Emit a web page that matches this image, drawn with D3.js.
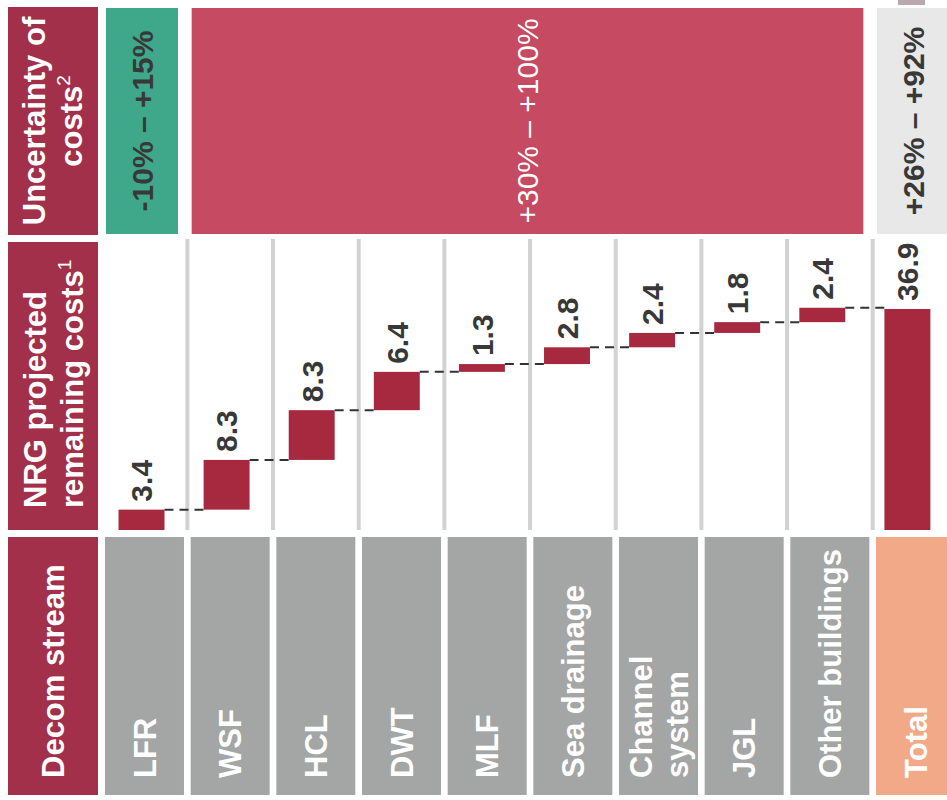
<!DOCTYPE html>
<html>
<head>
<meta charset="utf-8">
<script src="https://cdn.jsdelivr.net/npm/d3@7"></script>
<style>
  body { margin: 0; background: #fff; }
  svg { display: block; }
  text { font-family: "Liberation Sans", Arial, Helvetica, sans-serif; }
</style>
</head>
<body>
<svg id="chart" width="947" height="800"></svg>
<script>
// Decommissioning streams (columns) and the label lines written in each tile
const categories = ["LFR", "WSF", "HCL", "DWT", "MLF", "Sea drainage", "Channel system", "JGL", "Other buildings", "Total"];
const categoryLines = [["LFR"], ["WSF"], ["HCL"], ["DWT"], ["MLF"], ["Sea drainage"], ["Channel", "system"], ["JGL"], ["Other buildings"], ["Total"]];

// Projected remaining costs per stream, and the stated total
const streamCosts = [3.4, 8.3, 8.3, 6.4, 1.3, 2.8, 2.4, 1.8, 2.4];
const totalCost = 36.9;

// Cost uncertainty bands and the streams each one spans
const uncertaintyLabels = ["-10% – +15%", "+30% – +100%", "+26% – +92%"];
const uncertaintySpans = [["LFR", "LFR"], ["WSF", "Other buildings"], ["Total", "Total"]];

const C = {
  header: "#a2304a",
  bar: "#a6293f",
  bandRed: "#c54a62",
  bandGreen: "#3fa88a",
  bandGrey: "#e8e8e8",
  tileGrey: "#a3a6a5",
  tileTotal: "#f2a988",
  sep: "#d2d2d2",
  ink: "#383838"
};

const svg = d3.select("#chart");
const FS = 31;

// Column tiles
const x = d3.scaleBand().domain(categories).range([105, 955]).paddingInner(0.078).paddingOuter(0);
const bw = x.bandwidth();

// Waterfall bars sit on a slightly tighter grid inside the columns
const xb = d3.scaleBand().domain(categories).range([141.5 - 42.55, 141.5 + 9 * 85.1 + 42.55]).paddingInner(0.46).paddingOuter(0.23);

// Value axis (vertical, grows upward)
const y = d3.scaleLinear().domain([0, 40]).range([530, 530 - 40 * 5.99]);

// ---------- Row headers ----------
const rows = [
  { y0: 7, y1: 235 },
  { y0: 242, y1: 530 },
  { y0: 537, y1: 795 }
];
svg.selectAll("rect.rowhead").data(rows).join("rect")
  .attr("class", "rowhead")
  .attr("x", 8).attr("width", 90)
  .attr("y", d => d.y0).attr("height", d => d.y1 - d.y0)
  .attr("fill", C.header);

// "Uncertainty of costs²" – centred in the tile
const h1 = svg.append("g").attr("fill", "#fff").attr("font-size", FS).attr("font-weight", "bold");
h1.append("text").attr("transform", "translate(45,121) rotate(-90)")
  .attr("text-anchor", "middle").text("Uncertainty of");
const h1b = h1.append("text").attr("transform", "translate(82,121) rotate(-90)")
  .attr("text-anchor", "middle");
h1b.append("tspan").text("costs");
h1b.append("tspan").attr("dy", -12).attr("font-size", 19).attr("font-weight", "normal").text("2");

// "NRG projected remaining costs¹" – bottom aligned
const h2 = svg.append("g").attr("fill", "#fff").attr("font-size", FS).attr("font-weight", "bold");
h2.append("text").attr("transform", "translate(46,508) rotate(-90)").text("NRG projected");
const h2b = h2.append("text").attr("transform", "translate(83,508) rotate(-90)");
h2b.append("tspan").text("remaining costs");
h2b.append("tspan").attr("dy", -12).attr("font-size", 19).attr("font-weight", "normal").text("1");

// "Decom stream"
svg.append("text").attr("transform", "translate(64,778) rotate(-90)")
  .attr("fill", "#fff").attr("font-size", FS).attr("font-weight", "bold").text("Decom stream");

// ---------- Uncertainty band row ----------
const bands = uncertaintySpans.map((s, i) => ({
  label: uncertaintyLabels[i],
  x0: x(s[0]) + 1,
  x1: x(s[1]) + bw - 6,
  fill: [C.bandGreen, C.bandRed, C.bandGrey][i],
  ink: [C.ink, "#fff", C.ink][i],
  weight: ["bold", "normal", "bold"][i]
}));
svg.selectAll("rect.band").data(bands).join("rect")
  .attr("class", "band")
  .attr("x", d => d.x0).attr("width", d => d.x1 - d.x0)
  .attr("y", 8).attr("height", 226)
  .attr("fill", d => d.fill);
svg.selectAll("text.band").data(bands).join("text")
  .attr("class", "band")
  .attr("transform", d => `translate(${(d.x0 + d.x1) / 2},121) rotate(-90)`)
  .attr("text-anchor", "middle").attr("dy", "0.36em")
  .attr("font-size", 30).attr("font-weight", d => d.weight)
  .attr("fill", d => d.ink).text(d => d.label);

// small legend swatch at the top edge
svg.append("rect").attr("x", 898).attr("y", 0).attr("width", 27).attr("height", 5).attr("fill", "#b9a8ae");

// ---------- Waterfall ----------
// column separators
svg.selectAll("line.sep").data(categories.slice(1)).join("line")
  .attr("class", "sep")
  .attr("x1", d => x(d) - 3.3).attr("x2", d => x(d) - 3.3)
  .attr("y1", 239).attr("y2", 530)
  .attr("stroke", C.sep).attr("stroke-width", 4);

let run = 0;
const steps = streamCosts.map((v, i) => {
  const s = { cat: categories[i], v, lo: run, hi: run + v };
  run += v;
  return s;
});
steps.push({ cat: "Total", v: totalCost, lo: 0, hi: totalCost });

svg.selectAll("rect.bar").data(steps).join("rect")
  .attr("class", "bar")
  .attr("x", d => xb(d.cat)).attr("width", xb.bandwidth())
  .attr("y", d => y(d.hi)).attr("height", d => y(d.lo) - y(d.hi))
  .attr("fill", C.bar);

// dashed connectors at each running sum
const links = steps.slice(0, -1).map((d, i) => ({ from: d, to: steps[i + 1], level: d.hi }));
svg.selectAll("line.link").data(links).join("line")
  .attr("class", "link")
  .attr("x1", d => xb(d.from.cat) + xb.bandwidth())
  .attr("x2", d => xb(d.to.cat))
  .attr("y1", d => y(d.level)).attr("y2", d => y(d.level))
  .attr("stroke", "#333").attr("stroke-width", 2)
  .attr("stroke-dasharray", "9,6");

// value labels
svg.selectAll("text.val").data(steps).join("text")
  .attr("class", "val")
  .attr("transform", d => `translate(${xb(d.cat) + xb.bandwidth() / 2},${y(d.hi) - 8}) rotate(-90)`)
  .attr("dy", "0.36em")
  .attr("font-size", 30).attr("font-weight", "bold")
  .attr("fill", C.ink)
  .text(d => d3.format(".1f")(d.v));

// ---------- Stream name tiles ----------
const tiles = categories.map((c, i) => ({ cat: c, lines: categoryLines[i], total: c === "Total" }));
svg.selectAll("rect.tile").data(tiles).join("rect")
  .attr("class", "tile")
  .attr("x", d => x(d.cat)).attr("width", bw)
  .attr("y", 537).attr("height", 258)
  .attr("fill", d => d.total ? C.tileTotal : C.tileGrey);

const lineGap = 36;
svg.selectAll("g.tilelab").data(tiles).join("g")
  .attr("class", "tilelab")
  .each(function (d) {
    const cx = x(d.cat) + bw / 2;
    const n = d.lines.length;
    d.lines.forEach((ln, k) => {
      const bx = cx + 0.36 * FS + (k - (n - 1) / 2) * lineGap;
      d3.select(this).append("text")
        .attr("transform", `translate(${bx},778) rotate(-90)`)
        .attr("font-size", FS).attr("font-weight", "bold").attr("fill", "#fff")
        .text(ln);
    });
  });
</script>
</body>
</html>
